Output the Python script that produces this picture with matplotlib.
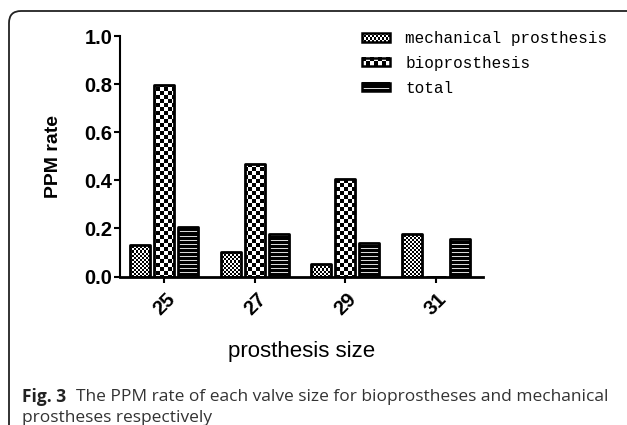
import numpy as np
import matplotlib.pyplot as plt
from matplotlib.patches import FancyBboxPatch, Rectangle
from matplotlib.transforms import IdentityTransform, Bbox, TransformedBbox
from matplotlib.image import BboxImage
from matplotlib.legend_handler import HandlerBase

sizes = ['25', '27', '29', '31']
series = ['mechanical prosthesis', 'bioprosthesis', 'total']
mechanical = [0.13, 0.10, 0.05, 0.178]
bio = [0.795, 0.467, 0.405, 0.0]
total = [0.205, 0.176, 0.14, 0.157]
kinds = ['fine', 'check', 'stripe']


def pattern(kind, h, w):
	i, j = np.mgrid[0:h, 0:w]
	if kind == 'fine':
		return ((i // 2 + j // 2) % 2).astype(float)
	if kind == 'check':
		return ((i // 4 + j // 4) % 2).astype(float)
	return np.where(i % 4 == 1, 0.85, 0.0)


class PatternHandler(HandlerBase):
	def __init__(self, kind):
		super().__init__()
		self.kind = kind

	def create_artists(self, legend, orig_handle, xdescent, ydescent,
					   width, height, fontsize, trans):
		h = 6.0
		y0 = -ydescent + (height - h) / 2
		bb = TransformedBbox(Bbox.from_bounds(-xdescent, y0, width, h), trans)
		img = BboxImage(bb, cmap='gray', norm=plt.Normalize(0, 1),
						interpolation='nearest')
		img.set_data(pattern(self.kind, 8, 28))
		rect = Rectangle((-xdescent, y0), width, h, facecolor='none',
						 edgecolor='black', lw=1.8, transform=trans)
		return [img, rect]


fig = plt.figure(figsize=(6.27, 4.25), dpi=100)
ax = fig.add_axes([120 / 627, 148.5 / 425, 363 / 627, 240.5 / 425])

xlim = (-0.49, 3.52)
x = np.arange(len(sizes))
width = 0.22
step = 0.265
H, W = 241, 363

for k, (vals, kind) in enumerate(zip([mechanical, bio, total], kinds)):
	bars = ax.bar(x + (k - 1) * step, vals, width, facecolor='none',
				  edgecolor='black', lw=2, joinstyle='round', zorder=2)
	pat = pattern(kind, H, W)
	for bar in bars:
		im = ax.imshow(pat, extent=(xlim[0], xlim[1], 0, 1), origin='upper',
					   aspect='auto', interpolation='nearest', cmap='gray',
					   vmin=0, vmax=1, zorder=1)
		im.set_clip_path(bar)

ax.set_xlim(*xlim)
ax.set_ylim(0, 1)
ax.set_yticks([0, 0.2, 0.4, 0.6, 0.8, 1.0])
ax.set_yticklabels(['0.0', '0.2', '0.4', '0.6', '0.8', '1.0'])
ax.set_xticks(x)
ax.set_xticklabels(sizes, rotation=45, ha='center', va='top')
for lab in ax.get_xticklabels() + ax.get_yticklabels():
	lab.set_fontfamily('Liberation Sans')
	lab.set_fontweight('bold')
	lab.set_fontsize(14.5)
ax.tick_params(axis='both', width=1.5, length=4.5, pad=1)
ax.tick_params(axis='x', pad=5)
ax.spines['top'].set_visible(False)
ax.spines['right'].set_visible(False)
ax.spines['left'].set_linewidth(1.5)
ax.spines['bottom'].set_linewidth(2)
ax.patch.set_visible(False)

ax.set_xlabel('prosthesis size', fontfamily='Liberation Sans', fontsize=16, labelpad=16)
ax.set_ylabel('PPM rate', fontfamily='Liberation Sans', fontsize=14,
			  fontweight='bold', labelpad=16)

handles = [Rectangle((0, 0), 1, 1) for _ in series]
ax.legend(handles, series, handler_map={h: PatternHandler(kd) for h, kd in zip(handles, kinds)},
		  loc='upper left', bbox_to_anchor=(362 / 627, 1 - 31 / 425),
		  bbox_transform=fig.transFigure, frameon=False, borderpad=0,
		  borderaxespad=0, handlelength=1.75, handletextpad=0.95,
		  labelspacing=0.62, prop={'family': 'Liberation Mono', 'size': 11.5})

border = FancyBboxPatch((9, -30), 660, 425 - 11 + 30,
						boxstyle='round,pad=0,rounding_size=12',
						transform=IdentityTransform(), facecolor='none',
						edgecolor='#222222', lw=1.3)
fig.add_artist(border)

fig.text(22 / 627, 1 - 397 / 425, 'Fig. 3', fontfamily='Open Sans',
		 fontweight='bold', fontsize=12.5, color='#222222', va='center')
fig.text(76 / 627, 1 - 397 / 425,
		 'The PPM rate of each valve size for bioprostheses and mechanical',
		 fontfamily='Open Sans', fontsize=12.5, color='#333333', va='center')
fig.text(22 / 627, 1 - 418 / 425, 'prostheses respectively',
		 fontfamily='Open Sans', fontsize=12.5, color='#333333', va='center')

fig.savefig('out.png', dpi=100)
